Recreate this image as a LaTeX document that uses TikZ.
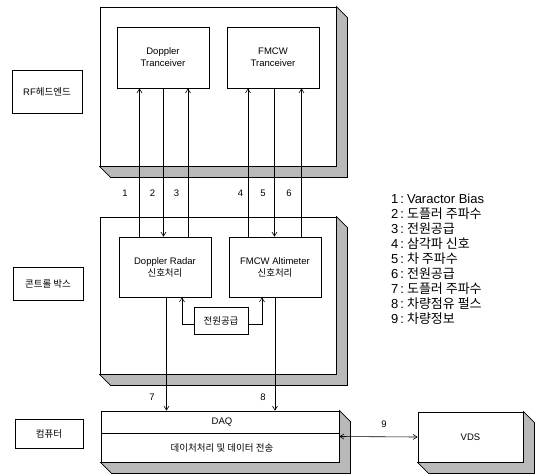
\documentclass[tikz,border=0pt]{standalone}
\usepackage{fontspec}
\setmainfont{Liberation Sans}
\newfontfamily\kr{Noto Sans CJK KR}
\usetikzlibrary{arrows.meta,calc}
\tikzset{
  frame/.style={draw, line width=0.8pt, fill=white, inner sep=0pt},
  slabshade/.style={draw, line width=0.7pt, fill=gray!55},
  box/.style={draw, line width=0.7pt, fill=white, minimum width=92pt, minimum height=60pt, inner sep=0pt, align=center, font=\fontsize{9.5}{12}\selectfont},
  lbl/.style={draw, line width=0.7pt, inner sep=0pt, align=center, font=\fontsize{9.5}{11}\selectfont},
  sig/.style={line width=0.6pt, -{Straight Barb[length=4pt,width=5pt]}},
  plain/.style={line width=0.6pt},
  num/.style={inner sep=0pt, font=\fontsize{9.5}{10}\selectfont},
  legend/.style={anchor=west, inner sep=0pt, font=\fontsize{13}{13}\selectfont},
}
\newcommand\slabshadow[1]{%
  \filldraw[slabshade] (#1.south west) -- ++(11,11) -- ($(#1.south east)+(11pt,-11pt)$)
    -- ($(#1.north east)+(11pt,-11pt)$) -- (#1.north east) -- (#1.south east) -- cycle;}
\newcommand\lgd[2]{#1\hspace{2pt}:\hspace{3pt}#2}
\begin{document}
\begin{tikzpicture}[x=1pt,y=-1pt]
\useasboundingbox (0,0) rectangle (539,475);
% frames
\node[frame, minimum width=236pt, minimum height=159pt] (top) at (218,86.5) {};
\slabshadow{top}
\node[frame, minimum width=236pt, minimum height=157pt] (mid) at (218,295.5) {};
\slabshadow{mid}
\node[frame, minimum width=238pt, minimum height=51pt] (daq) at (220,436.5) {};
\slabshadow{daq}
\node[frame, minimum width=105pt, minimum height=50pt, font=\fontsize{9.5}{11}\selectfont] (vds) at (470.5,437) {VDS};
\slabshadow{vds}
% left labels
\node[lbl, minimum width=70pt, minimum height=43pt] (rfl) at (47,91.5) {RF{\kr 헤드엔드}};
\node[lbl, minimum width=70pt, minimum height=33pt] (cbl) at (48,283.5) {\kr 콘트롤 박스};
\node[lbl, minimum width=68pt, minimum height=29pt] (cpl) at (49,433.5) {\kr 컴퓨터};
% inner boxes
\node[box, minimum height=61pt] (dt) at (163,57.5) {Doppler\\Tranceiver};
\node[box, minimum height=61pt] (ft) at (273,57.5) {FMCW\\Tranceiver};
\node[box] (dr) at (165,267) {Doppler Radar\\{\kr 신호처리}};
\node[box] (fa) at (275,267) {FMCW Altimeter\\{\kr 신호처리}};
\node[lbl, fill=white, minimum width=54pt, minimum height=27pt] (pw) at (221,320.5) {\kr 전원공급};
% DAQ contents
\draw[plain] ([yshift=3.5pt]daq.west) -- ([yshift=3.5pt]daq.east);
\node[inner sep=0pt, font=\fontsize{9.5}{11}\selectfont] (daqt) at (222,422) {DAQ};
\node[inner sep=0pt, font=\fontsize{9.5}{11}\selectfont] (dpt) at (222,448) {\kr 데이처처리 및 데이터 전송};
% x positions
\coordinate (c1) at (139.5,0);
\coordinate (c2) at (163.5,0);
\coordinate (c3) at (188,0);
\coordinate (c4) at (248,0);
\coordinate (c5) at (274.5,0);
\coordinate (c6) at (301.5,0);
\coordinate (c7) at (166.5,0);
\coordinate (c8) at (275,0);
\coordinate (pl) at (182,0);
\coordinate (pr) at (262,0);
% signals
\draw[sig] (dr.north -| c1) -- (dt.south -| c1);
\draw[sig] (dt.south -| c2) -- (dr.north -| c2);
\draw[sig] (dr.north -| c3) -- (dt.south -| c3);
\draw[sig] (fa.north -| c4) -- (ft.south -| c4);
\draw[sig] (ft.south -| c5) -- (fa.north -| c5);
\draw[sig] (fa.north -| c6) -- (ft.south -| c6);
\draw[sig] ([yshift=-4pt]pw.west) -| (dr.south -| pl);
\draw[sig] ([yshift=-4pt]pw.east) -| (fa.south -| pr);
\draw[sig] (dr.south -| c7) -- (daq.north -| c7);
\draw[sig] (fa.south -| c8) -- (daq.north -| c8);
\draw[sig, {Straight Barb[length=4pt,width=5pt]}-{Straight Barb[length=4pt,width=5pt]}] (daq.east) -- (vds.west);
% numbers
\node[num] (n1) at (125,193) {1};
\node[num] (n2) at (152.5,193) {2};
\node[num] (n3) at (176.5,193) {3};
\node[num] (n4) at (240.5,193) {4};
\node[num] (n5) at (263,193) {5};
\node[num] (n6) at (289,193) {6};
\node[num] (n7) at (152,397) {7};
\node[num] (n8) at (263,397) {8};
\node[num] (n9) at (384,424) {9};
% legend
\node[legend] (l1) at (391,199) {\lgd{1}{Varactor Bias}};
\node[legend] (l2) at (391,214) {\lgd{2}{\kr 도플러 주파수}};
\node[legend] (l3) at (391,229) {\lgd{3}{\kr 전원공급}};
\node[legend] (l4) at (391,244) {\lgd{4}{\kr 삼각파 신호}};
\node[legend] (l5) at (391,259) {\lgd{5}{\kr 차 주파수}};
\node[legend] (l6) at (391,274) {\lgd{6}{\kr 전원공급}};
\node[legend] (l7) at (391,289) {\lgd{7}{\kr 도플러 주파수}};
\node[legend] (l8) at (391,304) {\lgd{8}{\kr 차량점유 펄스}};
\node[legend] (l9) at (391,319) {\lgd{9}{\kr 차량정보}};
\end{tikzpicture}
\end{document}
